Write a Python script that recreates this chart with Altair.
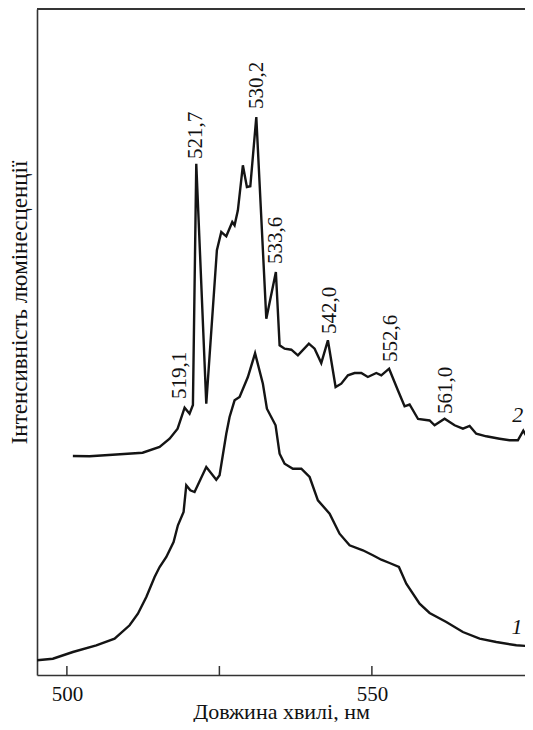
import altair as alt
import pandas as pd

# Curve 2 (upper spectrum): wavelength (nm) and intensity (arb. units)
c2_nm = [500.98, 503.72, 507.49, 512.41, 515.20, 516.84, 518.15, 519.30, 520.11, 520.66,
         521.21, 522.85, 524.59, 525.31, 526.13, 527.11, 527.49, 528.03, 528.85, 529.51,
         530.07, 531.05, 532.69, 534.26, 534.87, 535.69, 536.79, 537.87, 539.67, 540.61,
         541.70, 542.79, 544.05, 544.98, 546.07, 547.16, 548.26, 549.34, 550.72, 551.54,
         552.82, 554.26, 555.36, 556.18, 557.57, 559.46, 560.28, 561.92, 563.56, 564.92,
         566.02, 567.11, 568.75, 570.93, 572.57, 573.93, 574.82, 575.57, 576.26]
c2_I = [219, 218.7, 220.3, 222.3, 228, 236.3, 246.3, 267.3, 261.3, 270,
        511.3, 271.3, 424.7, 443, 438.7, 453, 449.7, 464.7, 509.7, 488,
        488.7, 558, 356.3, 403, 329.7, 326.3, 325.3, 319.7, 331.3, 326.3,
        312, 334.7, 288, 291.3, 299.7, 302, 302, 298, 302, 299.7,
        306.3, 284.7, 268.7, 270.5, 256, 254.5, 249.7, 256.3, 249.7, 246.3,
        249, 241.3, 238.7, 236.3, 234.7, 234.7, 244.3, 236.5, 235]

# Curve 1 (lower spectrum)
c1_nm = [495.00, 497.70, 500.98, 504.82, 507.82, 510.28, 511.64, 513.02, 514.38, 515.20,
         516.30, 517.49, 518.20, 519.13, 519.57, 520.23, 520.93, 522.85, 524.49, 525.03,
         526.13, 526.67, 527.49, 528.31, 529.67, 530.85, 532.13, 532.79, 534.21, 534.87,
         535.69, 537.05, 538.43, 539.79, 541.15, 543.07, 544.70, 546.34, 548.52, 550.16,
         551.54, 552.90, 554.43, 555.64, 557.82, 559.46, 562.20, 564.92, 567.66, 570.39,
         573.67, 576.30]
c1_I = [14.7, 16.3, 23, 29.7, 36.3, 49.7, 61.3, 78, 98, 108,
        118, 133, 149.7, 163, 189.7, 184.7, 183, 208, 195.3, 199.7,
        241.3, 258, 274.7, 278, 298, 321.7, 291.3, 266.3, 249.7, 221.3,
        211.3, 206.3, 206.3, 198, 174.7, 161.3, 141.3, 129.7, 124.7, 119.7,
        115.3, 112, 108, 91.3, 71.3, 62, 53, 43, 36.3, 33,
        29.7, 28.7]

# Peak annotations
peak_text = ["519,1", "521,7", "530,2", "533,6", "542,0", "552,6", "561,0"]
peak_x = [518.49, 521.10, 531.13, 534.21, 543.07, 553.07, 562.12]
peak_y = [276, 516, 566, 411, 341, 313, 261]

# Curve number labels
curve_text = ["1", "2"]
curve_x = [573.80, 573.90]
curve_y = [48, 260]

# Axis ticks and labels
tick_values = [500, 525, 550]
label_values = [500, 550]

X_DOMAIN = [495.1, 575.1]
Y_DOMAIN = [0, 666]
W, H = 488, 666
FONT = "Liberation Serif"
INK = "#141414"

lines_df = pd.DataFrame({
    "nm": c1_nm + c2_nm,
    "I": c1_I + c2_I,
    "curve": ["1"] * len(c1_nm) + ["2"] * len(c2_nm),
})
peaks_df = pd.DataFrame({"nm": peak_x, "I": peak_y, "t": peak_text})
curves_df = pd.DataFrame({"nm": curve_x, "I": curve_y, "t": curve_text})
ticks_df = pd.DataFrame({"nm": tick_values})

xscale = alt.Scale(domain=X_DOMAIN, nice=False, zero=False)
yscale = alt.Scale(domain=Y_DOMAIN, nice=False, zero=False)

lines = alt.Chart(lines_df).mark_line(
    color=INK, strokeWidth=2.4, strokeJoin="miter", clip=True
).encode(
    x=alt.X("nm:Q", scale=xscale, axis=alt.Axis(
        values=label_values, ticks=False, grid=False, labelPadding=8,
        labelFont=FONT, labelFontSize=21, labelColor="#111",
        domainColor="#333", domainWidth=1.6,
        title="Довжина хвилі, нм", titleFont=FONT, titleFontSize=22,
        titleFontWeight="normal", titleColor="#111",
        titleX=244, titleY=43, titleBaseline="alphabetic", titleAnchor="middle",
    )),
    y=alt.Y("I:Q", scale=yscale, axis=alt.Axis(
        ticks=False, labels=False, grid=False,
        domainColor="#333", domainWidth=1.6,
        title="Інтенсивність люмінесценції", titleFont=FONT, titleFontSize=23,
        titleFontWeight="normal", titleColor="#111",
        titleX=-18, titleY=293, titleAngle=270, titleAlign="center",
        titleBaseline="middle",
    )),
    detail="curve:N",
)

ticks = alt.Chart(ticks_df).mark_rule(color="#333", strokeWidth=1.5).encode(
    x=alt.X("nm:Q", scale=xscale),
    y=alt.value(H - 9),
    y2=alt.value(H),
)

top_line = alt.Chart(ticks_df).mark_rule(color="#333", strokeWidth=1.6).encode(
    x=alt.value(0), x2=alt.value(W), y=alt.value(0)
)

peaks = alt.Chart(peaks_df).mark_text(
    angle=270, align="left", baseline="middle", font=FONT, fontSize=21, color="#111"
).encode(
    x=alt.X("nm:Q", scale=xscale),
    y=alt.Y("I:Q", scale=yscale),
    text="t:N",
)

curve_labels = alt.Chart(curves_df).mark_text(
    align="center", baseline="middle", font=FONT, fontSize=22, fontStyle="italic", color="#111"
).encode(
    x=alt.X("nm:Q", scale=xscale),
    y=alt.Y("I:Q", scale=yscale),
    text="t:N",
)

chart = alt.layer(lines, ticks, top_line, peaks, curve_labels).properties(
    width=W, height=H,
    padding={"left": 29, "top": 1, "right": 0, "bottom": 47},
    autosize=alt.AutoSizeParams(type="none"),
    background="white",
).configure_view(stroke=None)

chart.save("out.html", embed_options={"renderer": "svg", "actions": False})
